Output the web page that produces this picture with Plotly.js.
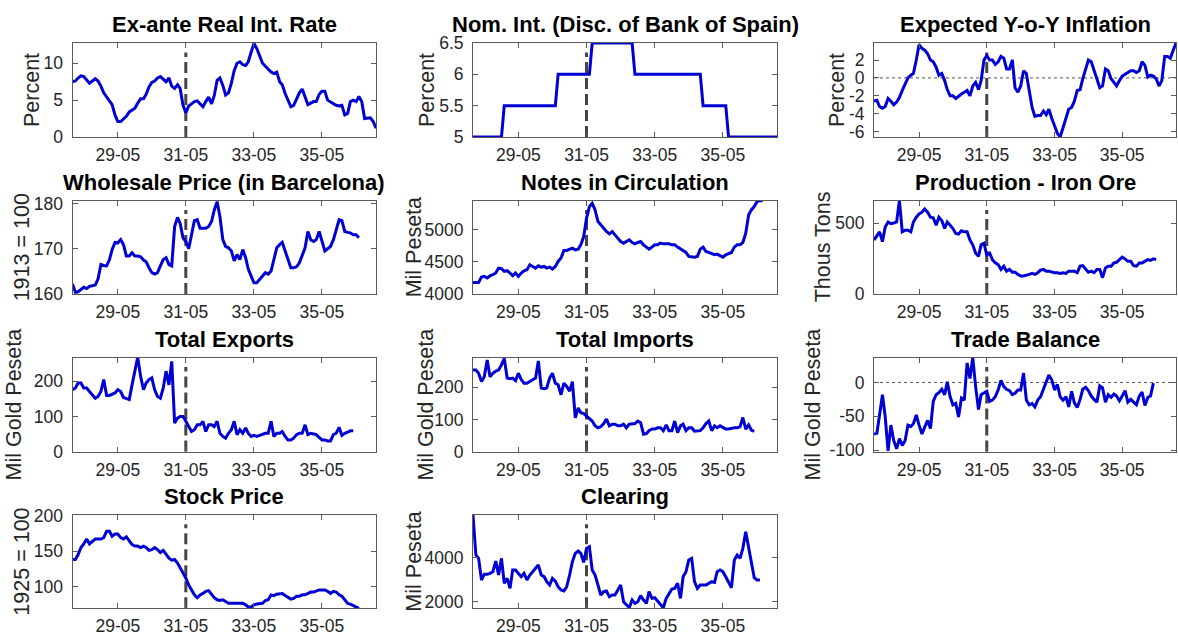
<!DOCTYPE html>
<html>
<head>
<meta charset="utf-8">
<script src="https://cdn.plot.ly/plotly-3.0.1.min.js"></script>
<style>
  html, body { margin: 0; padding: 0; background: #ffffff; }
  #chart { width: 1178px; height: 635px; }
</style>
</head>
<body>
<div id="chart"></div>
<script>
// Monthly series, all starting January 1928
const startYear = 1928;
const startMonth = 1;

const xTickDates = ['1929-05-01', '1931-05-01', '1933-05-01', '1935-05-01'];
const xTickLabels = ['29-05', '31-05', '33-05', '35-05'];
const regimeChange = '1931-05-01';

const realRate = [
  7.5, 7.6, 8.0, 8.3, 8.2, 7.7, 7.3, 7.6, 7.9, 7.6,
  6.9, 6.0, 5.5, 5.0, 4.4, 3.0, 2.1, 2.1, 2.4, 2.8,
  3.4, 3.7, 3.9, 4.6, 5.2, 5.2, 5.8, 6.8, 7.4, 7.6,
  8.0, 8.2, 7.8, 7.5, 8.0, 6.9, 6.6, 7.1, 6.6, 4.3,
  3.3, 4.2, 4.5, 4.8, 4.9, 4.5, 4.1, 4.8, 5.4, 4.5,
  5.6, 7.7, 8.0, 7.0, 5.7, 6.0, 7.3, 9.0, 10.0, 10.2,
  9.8, 9.7, 10.2, 11.5, 12.7, 12.0, 10.9, 10.0, 9.6, 9.2,
  8.8, 8.6, 8.8, 7.5, 7.1, 5.9, 5.0, 4.1, 4.3, 5.2,
  6.0, 6.5, 5.5, 4.4, 4.6, 4.8, 4.8, 5.8, 6.2, 6.2,
  5.0, 4.7, 4.5, 4.3, 4.2, 4.3, 3.0, 3.2, 4.8, 5.0,
  4.8, 5.5, 4.8, 2.5, 2.5, 2.6, 2.1, 1.2
];

const discountRate = [
  5.0, 5.0, 5.0, 5.0, 5.0, 5.0, 5.0, 5.0, 5.0, 5.0, 5.0,
  5.5, 5.5, 5.5, 5.5, 5.5, 5.5, 5.5, 5.5, 5.5, 5.5, 5.5, 5.5, 5.5, 5.5, 5.5, 5.5, 5.5, 5.5, 5.5,
  6.0, 6.0, 6.0, 6.0, 6.0, 6.0, 6.0, 6.0, 6.0, 6.0, 6.0, 6.0,
  6.5, 6.5, 6.5, 6.5, 6.5, 6.5, 6.5, 6.5, 6.5, 6.5, 6.5, 6.5, 6.5, 6.5, 6.5,
  6.0, 6.0, 6.0, 6.0, 6.0, 6.0, 6.0, 6.0, 6.0, 6.0, 6.0, 6.0,
  6.0, 6.0, 6.0, 6.0, 6.0, 6.0, 6.0, 6.0, 6.0, 6.0, 6.0, 6.0,
  5.5, 5.5, 5.5, 5.5, 5.5, 5.5, 5.5, 5.5, 5.5,
  5.0, 5.0, 5.0, 5.0, 5.0, 5.0, 5.0, 5.0, 5.0, 5.0, 5.0, 5.0, 5.0, 5.0, 5.0, 5.0, 5.0, 5.0
];

const expInflation = [
  -2.6, -2.5, -3.2, -3.4, -3.2, -2.3, -2.6, -3.0, -2.7, -2.2,
  -1.4, -0.7, 0.0, 0.3, 0.5, 2.0, 3.7, 3.3, 3.1, 2.7,
  2.0, 1.8, 1.2, 0.3, 0.5, -0.3, -1.3, -2.0, -2.0, -2.3,
  -2.0, -1.8, -1.6, -1.4, -2.0, -0.9, -0.5, -1.3, -0.3, 2.0,
  2.5, 2.0, 2.0, 1.5, 1.8, 2.4, 2.2, 1.0, 1.0, 2.0,
  -1.1, -1.6, -0.9, 0.8, 0.5, -1.6, -3.3, -4.3, -4.2, -4.2,
  -3.7, -4.1, -3.5, -4.5, -5.4, -6.2, -6.6, -5.6, -4.5, -3.5,
  -3.3, -2.6, -1.4, -1.3, -0.1, 1.0, 2.0, 1.8, 0.8,
  -0.3, -1.1, -0.9, 1.0, 0.8, -0.1, -0.5, -0.9, -0.3,
  0.2, 0.4, 0.6, 0.8, 0.8, 0.6, 0.8, 1.8, 1.4, 0.1,
  0.3, 0.2, -0.1, -0.9, -0.3, 2.4, 2.4, 2.2, 3.1, 3.9
];

const wholesalePrice = [
  162.2, 160.4, 160.5, 161.1, 161.5, 161.2, 161.7, 161.8, 162.0, 163.3,
  166.5, 166.3, 166.2, 167.6, 169.8, 171.4, 171.3, 172.0, 170.9, 168.4,
  168.4, 169.1, 168.4, 168.4, 168.2, 167.5, 167.1, 165.8, 164.7, 164.4,
  164.7, 166.2, 167.6, 168.0, 166.5, 166.2, 174.9, 176.9, 175.6, 172.4,
  171.6, 170.0, 173.5, 176.2, 176.4, 174.5, 174.5, 174.5, 174.9, 176.0,
  178.5, 180.4, 177.1, 172.0, 170.5, 170.2, 169.5, 167.3, 168.7, 167.6,
  169.8, 168.0, 165.5, 164.0, 162.5, 162.5, 163.3, 164.1, 164.7, 164.4,
  165.1, 167.6, 170.2, 170.9, 171.4, 169.5, 167.6, 165.8, 165.8, 166.0,
  166.9, 168.7, 170.2, 173.8, 172.0, 171.6, 172.0, 173.8, 171.6, 169.5,
  170.0, 170.5, 172.0, 174.5, 176.4, 176.2, 173.8, 173.6, 173.5, 173.1,
  173.1, 172.4
];

const notesCirculation = [
  4181, 4181, 4181, 4264, 4275, 4249, 4285, 4301, 4327, 4404,
  4394, 4352, 4363, 4327, 4285, 4327, 4275, 4327, 4363, 4378,
  4456, 4430, 4404, 4440, 4420, 4430, 4404, 4420, 4389, 4430,
  4508, 4560, 4679, 4679, 4700, 4715, 4689, 4700, 4767, 4896,
  5181, 5363, 5414, 5311, 5130, 5078, 5026, 4974, 4938, 4974,
  4922, 4870, 4819, 4793, 4819, 4845, 4803, 4782, 4803, 4819,
  4767, 4731, 4700, 4731, 4767, 4767, 4793, 4782, 4782, 4782,
  4767, 4767, 4731, 4700, 4679, 4648, 4586, 4575, 4575, 4586,
  4700, 4731, 4663, 4648, 4627, 4612, 4622, 4596, 4575, 4612,
  4627, 4648, 4731, 4767, 4767, 4803, 4948, 5233, 5311, 5363,
  5440, 5456, 5456
];

const ironOre = [
  380, 408, 438, 369, 472, 507, 495, 500, 507, 657,
  438, 449, 449, 438, 507, 541, 564, 576, 599, 576,
  541, 537, 484, 541, 518, 461, 507, 484, 461, 426,
  422, 445, 438, 438, 380, 346, 288, 265, 346, 357,
  276, 288, 242, 219, 207, 173, 196, 161, 173, 154,
  154, 138, 127, 127, 131, 138, 145, 138, 150, 168,
  173, 161, 161, 154, 150, 150, 145, 150, 145, 161,
  161, 161, 150, 196, 200, 173, 154, 161, 150, 173,
  173, 115, 184, 196, 196, 219, 223, 242, 260, 247,
  230, 230, 200, 196, 219, 219, 230, 242, 237, 247,
  242
];

const totalExports = [
  176, 181, 195, 195, 181, 181, 171, 160, 152, 157,
  171, 205, 160, 160, 164, 167, 176, 171, 154, 152,
  148, 190, 229, 269, 214, 176, 195, 205, 210, 176,
  157, 152, 181, 229, 190, 257, 81, 95, 100, 100,
  86, 71, 57, 62, 76, 76, 86, 57, 76, 76,
  71, 86, 52, 43, 38, 52, 62, 86, 48, 62,
  52, 67, 52, 43, 46, 43, 46, 48, 52, 52,
  86, 43, 52, 52, 57, 43, 33, 33, 38, 48,
  52, 52, 76, 48, 52, 50, 48, 40, 33, 33,
  30, 30, 48, 52, 69, 46, 52, 55, 59, 59
];

const totalImports = [
  254, 254, 244, 218, 233, 285, 233, 244, 251, 254,
  270, 290, 229, 227, 229, 221, 244, 224, 213, 213,
  218, 224, 229, 282, 198, 196, 198, 229, 244, 213,
  208, 177, 213, 203, 188, 218, 105, 136, 121, 118,
  111, 101, 95, 80, 74, 77, 87, 101, 80, 85,
  85, 80, 80, 85, 74, 85, 85, 87, 95, 90,
  54, 56, 65, 70, 70, 74, 74, 65, 83, 65,
  65, 95, 59, 80, 85, 65, 74, 74, 63, 65,
  65, 74, 87, 95, 65, 80, 74, 80, 74, 70,
  70, 73, 74, 74, 77, 106, 70, 83, 67, 63
];

const tradeBalance = [
  -76, -75, -48, -18, -51, -101, -63, -86, -98, -83,
  -93, -86, -63, -65, -61, -48, -63, -76, -66, -56,
  -68, -28, -18, -15, -10, -18, 1, -21, -33, -31,
  -51, -23, -26, 29, 6, 37, -6, -40, -18, -15,
  -13, -28, -26, -21, -11, 3, -6, -10, -12, -18,
  -16, -11, -11, 14, -26, -33, -31, -36, -26, -21,
  -11, 1, 11, 4, -11, -3, -21, -26, -21, -36,
  -13, -30, -37, -25, -10, -7, -12, -20, -25, -29,
  -5, -8, -29, -18, -22, -17, -20, -27, -20, -12,
  -29, -25, -29, -33, -20, -14, -34, -22, -20, -1
];

const stockPrice = [
  138, 138, 145, 155, 160, 167, 160, 164, 167, 167,
  167, 169, 178, 178, 171, 174, 174, 169, 167, 170,
  164, 159, 157, 157, 155, 157, 155, 151, 152, 155,
  152, 148, 151, 145, 140, 137, 138, 133, 126, 120,
  112, 102, 95, 88, 84, 88, 90, 93, 94, 88,
  84, 81, 80, 81, 78, 76, 76, 76, 76, 75,
  76, 74, 71, 71, 74, 75, 75, 76, 80, 81,
  88, 87, 89, 89, 90, 87, 84, 82, 83, 86,
  86, 88, 88, 90, 92, 92, 94, 95, 95, 95,
  93, 90, 93, 92, 88, 86, 81, 76, 75, 73,
  70, 69
];

const clearing = [
  5939, 4121, 3970, 2985, 3242, 3242, 3288, 3364, 3848, 3212,
  3970, 2833, 3061, 2606, 3439, 3439, 3288, 3136, 3288, 2985,
  3212, 3364, 3515, 3667, 3212, 3136, 2909, 2758, 3061, 2939,
  2682, 2530, 2485, 2682, 3212, 3818, 4197, 4303, 4197, 3788,
  4424, 4500, 3439, 3212, 2758, 2303, 2455, 2485, 2227, 2303,
  2303, 2530, 2758, 2000, 1879, 1727, 2076, 1924, 2000, 2273,
  2076, 1924, 2455, 2152, 2182, 2030, 1848, 1727, 2152, 2379,
  2576, 2606, 2833, 2152, 3136, 3364, 3894, 3970, 2909, 2606,
  2758, 2758, 2758, 2833, 2909, 2879, 3364, 3439, 3364, 3136,
  2909, 2636, 3894, 4121, 3970, 4424, 5182, 4500, 3894, 3091,
  2985, 2985
];

// Month-start date strings for a series of length n
function monthDates(n) {
  const out = [];
  for (let i = 0; i < n; i++) {
    const m = startMonth - 1 + i;
    const y = startYear + Math.floor(m / 12);
    const mm = (m % 12) + 1;
    out.push(y + '-' + String(mm).padStart(2, '0') + '-01');
  }
  return out;
}

const panels = [
  { title: 'Ex-ante Real Int. Rate', ylabel: 'Percent', values: realRate, range: [0, 12.75], ticks: [0, 5, 10], col: 0, row: 0, labelX: 32 },
  { title: 'Nom. Int. (Disc. of Bank of Spain)', ylabel: 'Percent', values: discountRate, range: [5, 6.5], ticks: [5, 5.5, 6, 6.5], col: 1, row: 0, labelX: 427 },
  { title: 'Expected Y-o-Y Inflation', ylabel: 'Percent', values: expInflation, range: [-6.6, 3.9], ticks: [-6, -4, -2, 0, 2], col: 2, row: 0, labelX: 837, zero: true },
  { title: 'Wholesale Price (in Barcelona)', ylabel: '1913 = 100', values: wholesalePrice, range: [160, 180.6], ticks: [160, 170, 180], col: 0, row: 1, labelX: 22 },
  { title: 'Notes in Circulation', ylabel: 'Mil Peseta', values: notesCirculation, range: [4000, 5455], ticks: [4000, 4500, 5000], col: 1, row: 1, labelX: 414 },
  { title: 'Production - Iron Ore', ylabel: 'Thous Tons', values: ironOre, range: [0, 657], ticks: [0, 500], col: 2, row: 1, labelX: 823 },
  { title: 'Total Exports', ylabel: 'Mil Gold Peseta', values: totalExports, range: [0, 268], ticks: [0, 100, 200], col: 0, row: 2, labelX: 13 },
  { title: 'Total Imports', ylabel: 'Mil Gold Peseta', values: totalImports, range: [0, 293], ticks: [0, 100, 200], col: 1, row: 2, labelX: 425 },
  { title: 'Trade Balance', ylabel: 'Mil Gold Peseta', values: tradeBalance, range: [-102, 37], ticks: [-100, -50, 0], col: 2, row: 2, labelX: 812, zero: true },
  { title: 'Stock Price', ylabel: '1925 = 100', values: stockPrice, range: [69, 201], ticks: [100, 150, 200], col: 0, row: 3, labelX: 22 },
  { title: 'Clearing', ylabel: 'Mil Peseta', values: clearing, range: [1700, 5940], ticks: [2000, 4000], col: 1, row: 3, labelX: 414 }
];

const W = 1178, H = 635;
const colX = [[72.5, 376], [473, 777], [874, 1176]];
const rowY = [[43, 137], [200.7, 294], [357.5, 451.5], [515, 608.3]];

const FONT = 'Liberation Sans, Arial, Helvetica, sans-serif';
const AXIS_COLOR = '#5a5a5a';
const LINE_BLUE = '#0000d2';
const TICK_SIZE = 17.5;

const traces = [];
const shapes = [];
const annotations = [];
const layout = {
  width: W, height: H,
  margin: { l: 0, r: 0, t: 0, b: 0 },
  paper_bgcolor: '#ffffff',
  plot_bgcolor: '#ffffff',
  showlegend: false,
  font: { family: FONT, color: '#262626' }
};

panels.forEach((p, idx) => {
  const k = idx + 1;
  const xa = k === 1 ? 'xaxis' : 'xaxis' + k;
  const ya = k === 1 ? 'yaxis' : 'yaxis' + k;
  const xr = k === 1 ? 'x' : 'x' + k;
  const yr = k === 1 ? 'y' : 'y' + k;
  const [x0, x1] = colX[p.col];
  const [yTop, yBot] = rowY[p.row];

  layout[xa] = {
    domain: [x0 / W, x1 / W],
    anchor: yr,
    type: 'date',
    range: ['1928-01-01', '1936-12-01'],
    tickvals: xTickDates,
    ticktext: xTickLabels,
    ticks: 'inside', ticklen: 5, tickwidth: 1, tickcolor: AXIS_COLOR,
    showline: true, linecolor: AXIS_COLOR, linewidth: 1, mirror: 'allticks',
    showgrid: false, zeroline: false,
    ticklabelstandoff: 2,
    tickfont: { family: FONT, size: TICK_SIZE, color: '#262626' },
    fixedrange: true
  };
  layout[ya] = {
    domain: [1 - yBot / H, 1 - yTop / H],
    anchor: xr,
    range: p.range,
    tickvals: p.ticks,
    ticktext: p.ticks.map(v => String(v)),
    ticks: 'inside', ticklen: 5, tickwidth: 1, tickcolor: AXIS_COLOR,
    showline: true, linecolor: AXIS_COLOR, linewidth: 1, mirror: 'allticks',
    showgrid: false, zeroline: false,
    ticklabelstandoff: 5,
    tickfont: { family: FONT, size: TICK_SIZE, color: '#262626' },
    fixedrange: true
  };

  traces.push({
    type: 'scatter', mode: 'lines',
    x: monthDates(p.values.length), y: p.values,
    xaxis: xr, yaxis: yr,
    line: { color: LINE_BLUE, width: 3 },
    hoverinfo: 'skip'
  });

  // Regime-change marker
  shapes.push({
    type: 'line', layer: 'below',
    xref: xr, x0: regimeChange, x1: regimeChange,
    yref: yr + ' domain', y0: 0, y1: 0.9,
    line: { color: '#454545', width: 3, dash: '11px,5px' }
  });

  if (p.zero) {
    shapes.push({
      type: 'line', layer: 'below',
      xref: xr + ' domain', x0: 0, x1: 1,
      yref: yr, y0: 0, y1: 0,
      line: { color: '#555555', width: 1, dash: 'dot' }
    });
  }

  annotations.push({
    text: '<b>' + p.title + '</b>',
    xref: 'paper', yref: 'paper',
    x: ((x0 + x1) / 2) / W, y: 1 - (yTop - 5) / H,
    xanchor: 'center', yanchor: 'bottom',
    borderpad: 0,
    showarrow: false,
    font: { family: FONT, size: 22, color: '#000000' }
  });

  annotations.push({
    text: p.ylabel,
    xref: 'paper', yref: 'paper',
    x: p.labelX / W, y: 1 - ((yTop + yBot) / 2) / H,
    xanchor: 'center', yanchor: 'middle',
    textangle: -90,
    showarrow: false,
    font: { family: FONT, size: 21.5, color: '#262626' }
  });
});

layout.shapes = shapes;
layout.annotations = annotations;

Plotly.newPlot('chart', traces, layout, { staticPlot: true, displayModeBar: false });
</script>
</body>
</html>
